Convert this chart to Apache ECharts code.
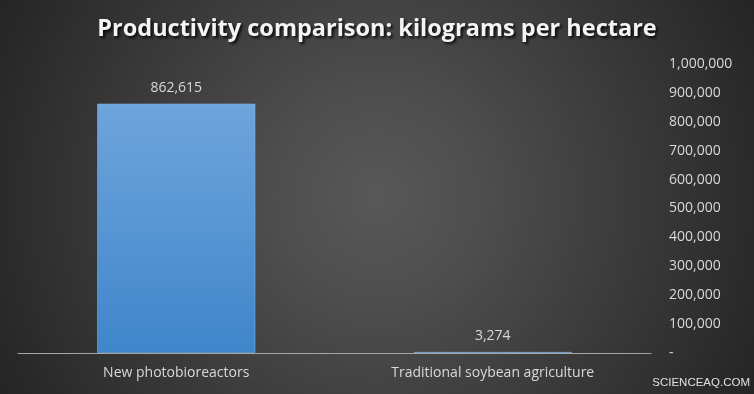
<!DOCTYPE html>
<html>
<head>
<meta charset="utf-8">
<script src="https://cdn.jsdelivr.net/npm/echarts@6/dist/echarts.min.js"></script>
<style>
html,body{margin:0;padding:0;background:#333;}
#chart{width:754px;height:394px;}
</style>
</head>
<body>
<div id="chart"></div>
<script>
const categories = ['New photobioreactors', 'Traditional soybean agriculture'];
const values = [862615, 3274];
const yTickLabels = ['-', '100,000', '200,000', '300,000', '400,000', '500,000', '600,000', '700,000', '800,000', '900,000', '1,000,000'];

const chart = echarts.init(document.getElementById('chart'), null, {renderer: 'canvas'});
chart.setOption({
  backgroundColor: {
    type: 'radial', x: 0.5, y: 0.5, r: 1.05,
    colorStops: [{offset: 0, color: '#585858'}, {offset: 0.25, color: '#4e4e4e'}, {offset: 1, color: '#262626'}]
  },
  title: {
    text: 'Productivity comparison: kilograms per hectare',
    left: 'center', top: 12,
    textStyle: {
      color: '#f4f4f4', fontSize: 23.5, fontWeight: 'bold', fontFamily: 'Open Sans',
      textShadowColor: 'rgba(0,0,0,0.85)', textShadowBlur: 3, textShadowOffsetX: 2, textShadowOffsetY: 2
    }
  },
  grid: {left: 18, right: 103, top: 64, bottom: 41},
  xAxis: {
    type: 'category', data: categories,
    axisLine: {lineStyle: {color: '#a6a6a6', width: 1}},
    axisTick: {show: false},
    axisLabel: {color: '#d9d9d9', fontSize: 14, fontFamily: 'Open Sans', margin: 13}
  },
  yAxis: {
    type: 'value', position: 'right', min: 0, max: 1000000, interval: 100000,
    splitLine: {show: false}, axisLine: {show: false}, axisTick: {show: false},
    axisLabel: {
      color: '#d9d9d9', fontSize: 14, fontFamily: 'Open Sans', margin: 18,
      formatter: v => yTickLabels[Math.round(v / 100000)]
    }
  },
  series: [{
    type: 'bar', data: values, barWidth: 158,
    itemStyle: {
      color: {type: 'linear', x: 0, y: 0, x2: 0, y2: 1,
        colorStops: [{offset: 0, color: '#6fa4dc'}, {offset: 1, color: '#3f86cb'}]},
      borderColor: '#8fb8e3', borderWidth: 0.5
    },
    label: {
      show: true, position: 'top', distance: 9, color: '#d9d9d9', fontSize: 14, fontFamily: 'Open Sans',
      formatter: p => p.value.toLocaleString('en-US')
    }
  }],
  graphic: [{
    type: 'text', right: 4, top: 377,
    style: {text: 'SCIENCEAQ.COM', fill: '#e0e0e0', font: '11.5px "Liberation Sans Narrow", "Liberation Sans", sans-serif'}
  }]
});
</script>
</body>
</html>
